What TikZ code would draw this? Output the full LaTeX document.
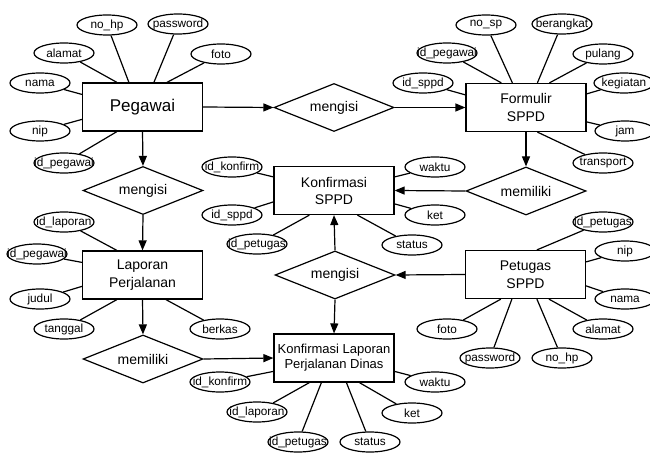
\documentclass[tikz,border=0pt]{standalone}
\usepackage{fontspec}
\setmainfont{Liberation Sans}
\usetikzlibrary{shapes.geometric,arrows.meta,calc}
\newcommand{\zt}[1]{\makebox[0pt]{#1}}
\tikzset{
  attr/.style={draw, ellipse, minimum width=60pt, minimum height=20pt, inner sep=0pt, font=\fontsize{11.8}{13}\selectfont},
  entity/.style={draw, rectangle, minimum width=120pt, minimum height=48pt, inner sep=0pt, align=center, font=\fontsize{14}{18}\selectfont},
  rel/.style={draw, diamond, aspect=2.5, minimum width=120pt, minimum height=48pt, inner sep=0pt, font=\fontsize{14}{16}\selectfont},
  conn/.style={-{Triangle[length=10pt,width=8pt]}},
}
\begin{document}
\begin{tikzpicture}[x=1pt,y=-1pt,line width=1.2pt]
\useasboundingbox (0,0) rectangle (650,454);
% entities
\node[entity, font=\fontsize{17}{20}\selectfont] (peg) at (142.5,107) {Pegawai};
\node[entity] (form) at (526,107.5) {Formulir\\SPPD};
\node[entity, font=\fontsize{14}{17}\selectfont] (ks) at (334,190.5) {Konfirmasi\\SPPD};
\node[entity] (lap) at (142.5,275) {Laporan\\Perjalanan};
\node[entity] (pet) at (525.5,274.5) {Petugas\\SPPD};
\node[entity, font=\fontsize{13}{15}\selectfont] (kl) at (334,358) {Konfirmasi Laporan\\Perjalanan Dinas};
% relationships
\node[rel] (m1) at (334,107.5) {mengisi};
\node[rel] (m2) at (526,191) {memiliki};
\node[rel] (m3) at (143,190.5) {mengisi};
\node[rel] (m4) at (335,275) {mengisi};
\node[rel] (m5) at (143,359) {memiliki};
% relationship connectors
\draw[conn] (peg.east) -- (m1.west);
\draw[conn] (m1.east) -- (form.west);
\draw[conn] (form.south) -- (m2.north);
\draw[conn] (m2.west) -- (ks.east);
\draw[conn] (peg.south) -- (m3.north);
\draw[conn] (m3.south) -- (lap.north);
\draw[conn] (pet.west) -- (m4.east);
\draw[conn] (m4.north) -- (ks.south);
\draw[conn] (m4.south) -- (kl.north);
\draw[conn] (lap.south) -- (m5.north);
\draw[conn] (m5.east) -- (kl.west);
% Pegawai attributes
\node[attr] (pa1) at (107,25) {\zt{no\_hp}};
\node[attr] (pa2) at (64,53) {\zt{alamat}};
\node[attr] (pa3) at (178,24) {\zt{password}};
\node[attr] (pa4) at (221,54) {\zt{foto}};
\node[attr] (pa5) at (40,83) {\zt{nama}};
\node[attr] (pa6) at (40,131) {\zt{nip}};
\node[attr] (pa7) at (64,163) {\zt{id\_pegawai}};
\draw (pa1) -- ($(peg.north west)+(47,0)$);
\draw (pa2) -- ($(peg.north west)+(35,0)$);
\draw (pa3) -- ($(peg.north west)+(72,0)$);
\draw (pa4) -- ($(peg.north west)+(85,0)$);
\draw (pa5) -- ($(peg.north west)+(0,12)$);
\draw (pa6) -- ($(peg.north west)+(0,37)$);
\draw (pa7) -- ($(peg.south west)+(35,0)$);
% Formulir attributes
\node[attr] (fa1) at (486,25) {\zt{no\_sp}};
\node[attr] (fa2) at (447,53) {\zt{id\_pegawai}};
\node[attr] (fa3) at (562,24) {\zt{berangkat}};
\node[attr] (fa4) at (603,54) {\zt{pulang}};
\node[attr] (fa5) at (423,83) {\zt{id\_sppd}};
\node[attr] (fa6) at (624,83) {\zt{kegiatan}};
\node[attr] (fa7) at (625,131) {\zt{jam}};
\node[attr] (fa8) at (603,163) {\zt{transport}};
\draw (fa1) -- ($(form.north west)+(47,0)$);
\draw (fa2) -- ($(form.north west)+(36,0)$);
\draw (fa3) -- ($(form.north west)+(72,0)$);
\draw (fa4) -- ($(form.north west)+(84,0)$);
\draw (fa5) -- ($(form.north west)+(0,12)$);
\draw (fa6) -- ($(form.north east)+(0,11)$);
\draw (fa7) -- ($(form.north east)+(0,39)$);
\draw (fa8) -- ($(form.south west)+(72,0)$);
% Konfirmasi SPPD attributes
\node[attr] (ka1) at (232,167) {\zt{id\_konfirm}};
\node[attr] (ka2) at (232,215) {\zt{id\_sppd}};
\node[attr] (ka3) at (257,244) {\zt{id\_petugas}};
\node[attr] (ka4) at (412,245) {\zt{status}};
\node[attr] (ka5) at (435,167) {\zt{waktu}};
\node[attr] (ka6) at (435,215) {\zt{ket}};
\draw (ka1) -- ($(ks.north west)+(0,11)$);
\draw (ka2) -- ($(ks.north west)+(0,36)$);
\draw (ka3) -- ($(ks.south west)+(36,0)$);
\draw (ka4) -- ($(ks.south west)+(84,0)$);
\draw (ka5) -- ($(ks.north east)+(0,11)$);
\draw (ka6) -- ($(ks.north east)+(0,38)$);
% Laporan attributes
\node[attr] (la1) at (64,222) {\zt{id\_laporan}};
\node[attr] (la2) at (37,254) {\zt{id\_pegawai}};
\node[attr] (la3) at (40,299) {\zt{judul}};
\node[attr] (la4) at (64,329) {\zt{tanggal}};
\node[attr] (la5) at (220,329) {\zt{berkas}};
\draw (la1) -- ($(lap.north west)+(35,0)$);
\draw (la2) -- ($(lap.north west)+(0,12)$);
\draw (la3) -- ($(lap.north west)+(0,36)$);
\draw (la4) -- ($(lap.south west)+(35,0)$);
\draw (la5) -- ($(lap.south west)+(84,0)$);
% Petugas attributes
\node[attr] (ta1) at (603,222) {\zt{id\_petugas}};
\node[attr] (ta2) at (625,251) {\zt{nip}};
\node[attr] (ta3) at (625,299) {\zt{nama}};
\node[attr] (ta4) at (447,329) {\zt{foto}};
\node[attr] (ta5) at (490,358) {\zt{password}};
\node[attr] (ta6) at (562,358) {\zt{no\_hp}};
\node[attr] (ta7) at (603,329) {\zt{alamat}};
\draw (ta1) -- ($(pet.north west)+(72,0)$);
\draw (ta2) -- ($(pet.north east)+(0,12)$);
\draw (ta3) -- ($(pet.north east)+(0,36)$);
\draw (ta4) -- ($(pet.south west)+(36,0)$);
\draw (ta5) -- ($(pet.south west)+(47,0)$);
\draw (ta6) -- ($(pet.south west)+(72,0)$);
\draw (ta7) -- ($(pet.south west)+(84,0)$);
% Konfirmasi Laporan attributes
\node[attr] (ca1) at (220,382) {\zt{id\_konfirm}};
\node[attr] (ca2) at (257,412) {\zt{id\_laporan}};
\node[attr] (ca3) at (298,442) {\zt{id\_petugas}};
\node[attr] (ca4) at (370,442) {\zt{status}};
\node[attr] (ca5) at (412,413) {\zt{ket}};
\node[attr] (ca6) at (435,382) {\zt{waktu}};
\draw (ca1) -- ($(kl.north west)+(0,38)$);
\draw (ca2) -- ($(kl.south west)+(36,0)$);
\draw (ca3) -- ($(kl.south west)+(48,0)$);
\draw (ca4) -- ($(kl.south west)+(73,0)$);
\draw (ca5) -- ($(kl.south west)+(86,0)$);
\draw (ca6) -- ($(kl.north east)+(0,38)$);
\end{tikzpicture}
\end{document}
